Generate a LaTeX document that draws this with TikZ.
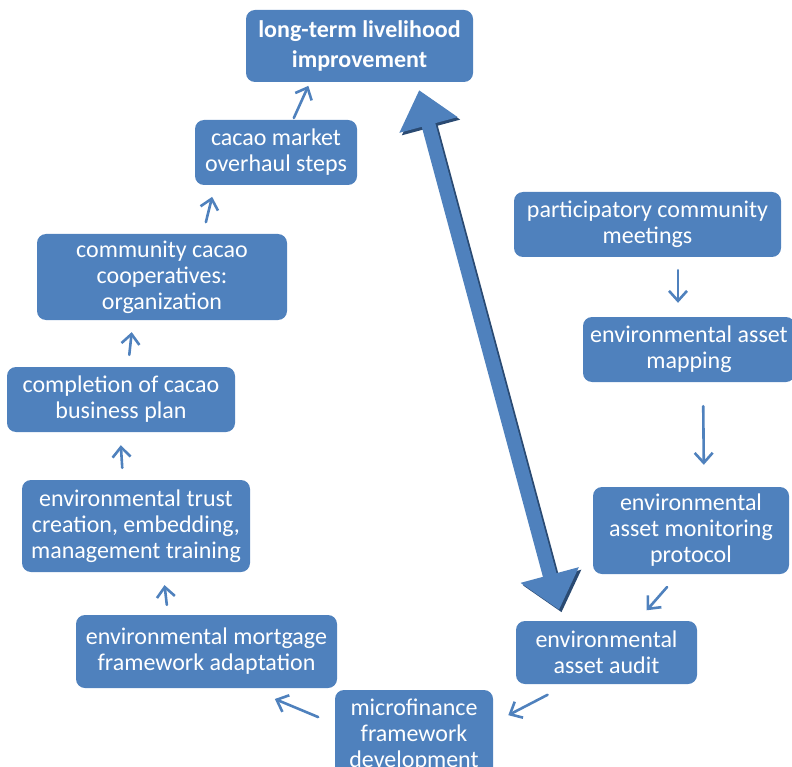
\documentclass[tikz,border=0pt]{standalone}
\usepackage{fontspec}
\setmainfont{Carlito}
\usetikzlibrary{arrows.meta}
\definecolor{stepblue}{HTML}{4F81BD}
\definecolor{stepshade}{HTML}{2A4A72}
\newcommand{\stepfont}{\fontsize{24}{26}\selectfont}
\tikzset{
  stage/.style={fill=stepblue, text=white, rounded corners=9pt, align=center,
    inner sep=0pt, font=\stepfont},
  flow/.style={draw=stepblue, line width=2.6pt, line cap=round,
    -{Straight Barb[length=10pt,width=18pt]}},
  bigflow/.style={line width=14pt,
    {Triangle[length=36pt,width=58pt]}-{Triangle[length=36pt,width=58pt]}}
}

\begin{document}
\begin{tikzpicture}[x=1pt,y=-1pt]
 \clip (0,0) rectangle (792,767);

 \node[stage, minimum width=227pt, minimum height=72pt, font=\fontsize{24}{29.5}\selectfont\bfseries]
   (goal) at (359.5,46) {long-term livelihood\\improvement};
 \node[stage, minimum width=162pt, minimum height=65pt] (market) at (276,152.5)
   {cacao market\\overhaul steps};
 \node[stage, minimum width=250pt, minimum height=86pt] (coop) at (162,277)
   {community cacao\\cooperatives:\\organization};
 \node[stage, minimum width=228pt, minimum height=65pt] (plan) at (121,399.5)
   {completion of cacao\\business plan};
 \node[stage, minimum width=228pt, minimum height=92pt] (trust) at (136,526)
   {environmental trust\\creation, embedding,\\management training};
 \node[stage, minimum width=261pt, minimum height=73pt] (mortgage) at (206.5,651.5)
   {environmental mortgage\\framework adaptation};
 \node[stage, minimum width=158pt, minimum height=90pt] (micro) at (414,735)
   {microfinance\\framework\\development};
 \node[stage, minimum width=181pt, minimum height=63pt] (audit) at (606.5,652.5)
   {environmental\\asset audit};
 \node[stage, minimum width=196pt, minimum height=87pt] (monitor) at (691,530.5)
   {environmental\\asset monitoring\\protocol};
 \node[stage, minimum width=212pt, minimum height=65pt] (mapping) at (689,349.5)
   {environmental asset\\mapping};
 \node[stage, minimum width=267pt, minimum height=65pt] (meetings) at (647.5,224.5)
   {participatory community\\meetings};

 % small steps round the cycle
 \draw[flow, shorten <=2pt, shorten >=4pt] ([xshift=17pt]market.north) -- ([xshift=-49.5pt]goal.south);
 \draw[flow, shorten <=12pt, shorten >=12pt] ([xshift=41pt]coop.north) -- ([xshift=-61pt]market.south);
 \draw[flow, shorten <=12pt, shorten >=12pt] ([xshift=7pt]plan.north) -- ([xshift=-29pt]coop.south);
 \draw[flow, shorten <=12pt, shorten >=13pt] ([xshift=-13pt]trust.north) -- ([xshift=-1pt]plan.south);
 \draw[flow, shorten <=10pt, shorten >=13pt] ([xshift=-38.5pt]mortgage.north) -- ([xshift=27pt]trust.south);
 \draw[flow, shorten <=18pt, shorten >=28pt] ([yshift=11pt]micro.west) -- ([xshift=42.5pt]mortgage.south);
 \draw[flow, shorten <=23pt, shorten >=17pt] ([xshift=-38.5pt]audit.south) -- ([yshift=12pt]micro.east);
 \draw[flow, shorten <=17pt, shorten >=14pt] ([xshift=-12.7pt]monitor.south) -- ([xshift=31pt]audit.north);
 \draw[flow, shorten <=13pt, shorten >=14pt] ([xshift=30.5pt]meetings.south) -- ([xshift=-11pt]mapping.north);
 \draw[flow, shorten <=24pt, shorten >=22pt] ([xshift=14pt]mapping.south) -- ([xshift=13pt]monitor.north);

 % big two-way arrow
 \draw[bigflow, stepshade, fill=stepshade, shorten <=8.3pt, shorten >=11.4pt,
   transform canvas={shift={(2.5pt,-2.5pt)}}]
   ([xshift=57.5pt]goal.south) -- ([xshift=-44.5pt]audit.north);
 \draw[bigflow, stepblue, fill=stepblue, shorten <=8.3pt, shorten >=11.4pt]
   ([xshift=57.5pt]goal.south) -- ([xshift=-44.5pt]audit.north);
\end{tikzpicture}
\end{document}
